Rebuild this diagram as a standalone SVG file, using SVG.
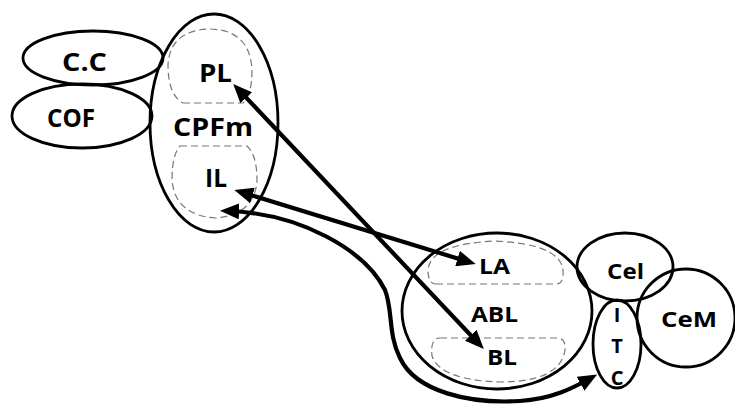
<svg xmlns="http://www.w3.org/2000/svg" width="735" height="404" viewBox="0 0 735 404">
<style>
.reg{fill:none;stroke:#000;stroke-width:2.8}
.sub{fill:none;stroke:#777;stroke-width:1.2;stroke-dasharray:7 4}
.lbl{font-family:"Open Sans","DejaVu Sans",sans-serif;font-weight:bold;fill:#000;text-anchor:middle}
.conn{fill:none;stroke:#000;stroke-width:4.2}
</style>
<defs>
<marker id="ah" markerUnits="userSpaceOnUse" markerWidth="20" markerHeight="16" refX="12" refY="8" orient="auto-start-reverse" viewBox="0 0 20 16">
<path d="M0,0 L19,8 L0,16 Z" fill="#000"/>
</marker>
</defs>
<rect width="735" height="404" fill="#fff"/>
<g id="CC"><ellipse class="reg" cx="93" cy="58" rx="70" ry="27"/><text class="lbl" x="84.5" y="71" font-size="25" textLength="45" lengthAdjust="spacingAndGlyphs">C.C</text></g>
<g id="COF"><ellipse class="reg" cx="82" cy="116" rx="70" ry="32"/><text class="lbl" x="71" y="127" font-size="25" textLength="48" lengthAdjust="spacingAndGlyphs">COF</text></g>
<g id="CPFm"><ellipse class="reg" cx="214" cy="123" rx="64" ry="109" stroke-width="3.2"/><text class="lbl" x="213" y="136" font-size="25" textLength="80" lengthAdjust="spacingAndGlyphs">CPFm</text></g>
<g id="PL"><path class="sub" d="M183,103 L243,103 Q252,95 252,70 Q250,30 210,29 Q170,30 168,65 Q168,95 183,103 Z"/><text class="lbl" x="215.5" y="82" font-size="25" textLength="33" lengthAdjust="spacingAndGlyphs">PL</text></g>
<g id="IL"><path class="sub" d="M180,146 L247,146 Q257,155 257,180 Q255,215 215,218 Q175,215 172,180 Q172,155 180,146 Z"/><text class="lbl" x="216" y="187" font-size="25" textLength="22" lengthAdjust="spacingAndGlyphs">IL</text></g>
<g id="ABL"><ellipse class="reg" cx="497" cy="311" rx="95" ry="78"/><text class="lbl" x="494.5" y="321.5" font-size="22" textLength="47" lengthAdjust="spacingAndGlyphs">ABL</text></g>
<g id="LA"><path class="sub" d="M436,284 L556,284 Q564,284 563,270 Q560,244 495,241 Q430,244 428,270 Q428,284 436,284 Z"/><text class="lbl" x="494.5" y="274" font-size="22" textLength="31" lengthAdjust="spacingAndGlyphs">LA</text></g>
<g id="BL"><path class="sub" d="M440,338 L557,338 Q566,338 565,350 Q560,382 500,382 Q440,380 432,356 Q430,338 440,338 Z"/><text class="lbl" x="502" y="365" font-size="22" textLength="30" lengthAdjust="spacingAndGlyphs">BL</text></g>
<g id="Cel"><ellipse class="reg" cx="625" cy="267" rx="48" ry="34"/><text class="lbl" x="625.5" y="279" font-size="22" textLength="37" lengthAdjust="spacingAndGlyphs">Cel</text></g>
<g id="CeM"><ellipse class="reg" cx="686" cy="318" rx="49" ry="49"/><text class="lbl" x="689" y="327" font-size="22" textLength="56" lengthAdjust="spacingAndGlyphs">CeM</text></g>
<g id="ITC"><ellipse class="reg" cx="617" cy="344" rx="24" ry="44"/><text class="lbl" x="617" y="322" font-size="20">I</text><text class="lbl" x="617" y="353" font-size="20">T</text><text class="lbl" x="617" y="385" font-size="20">C</text></g>
<g id="connectors">
<line class="conn" x1="238" y1="89" x2="479" y2="344" marker-start="url(#ah)" marker-end="url(#ah)"/>
<line class="conn" x1="241" y1="192" x2="469" y2="262" marker-start="url(#ah)" marker-end="url(#ah)"/>
<path class="conn" d="M227,211 C300,213 365,250 385,290 C393,310 388,335 400,358 C416,392 470,404 520,401 C552,399 573,388 591,378" marker-start="url(#ah)" marker-end="url(#ah)"/>
</g>
</svg>
